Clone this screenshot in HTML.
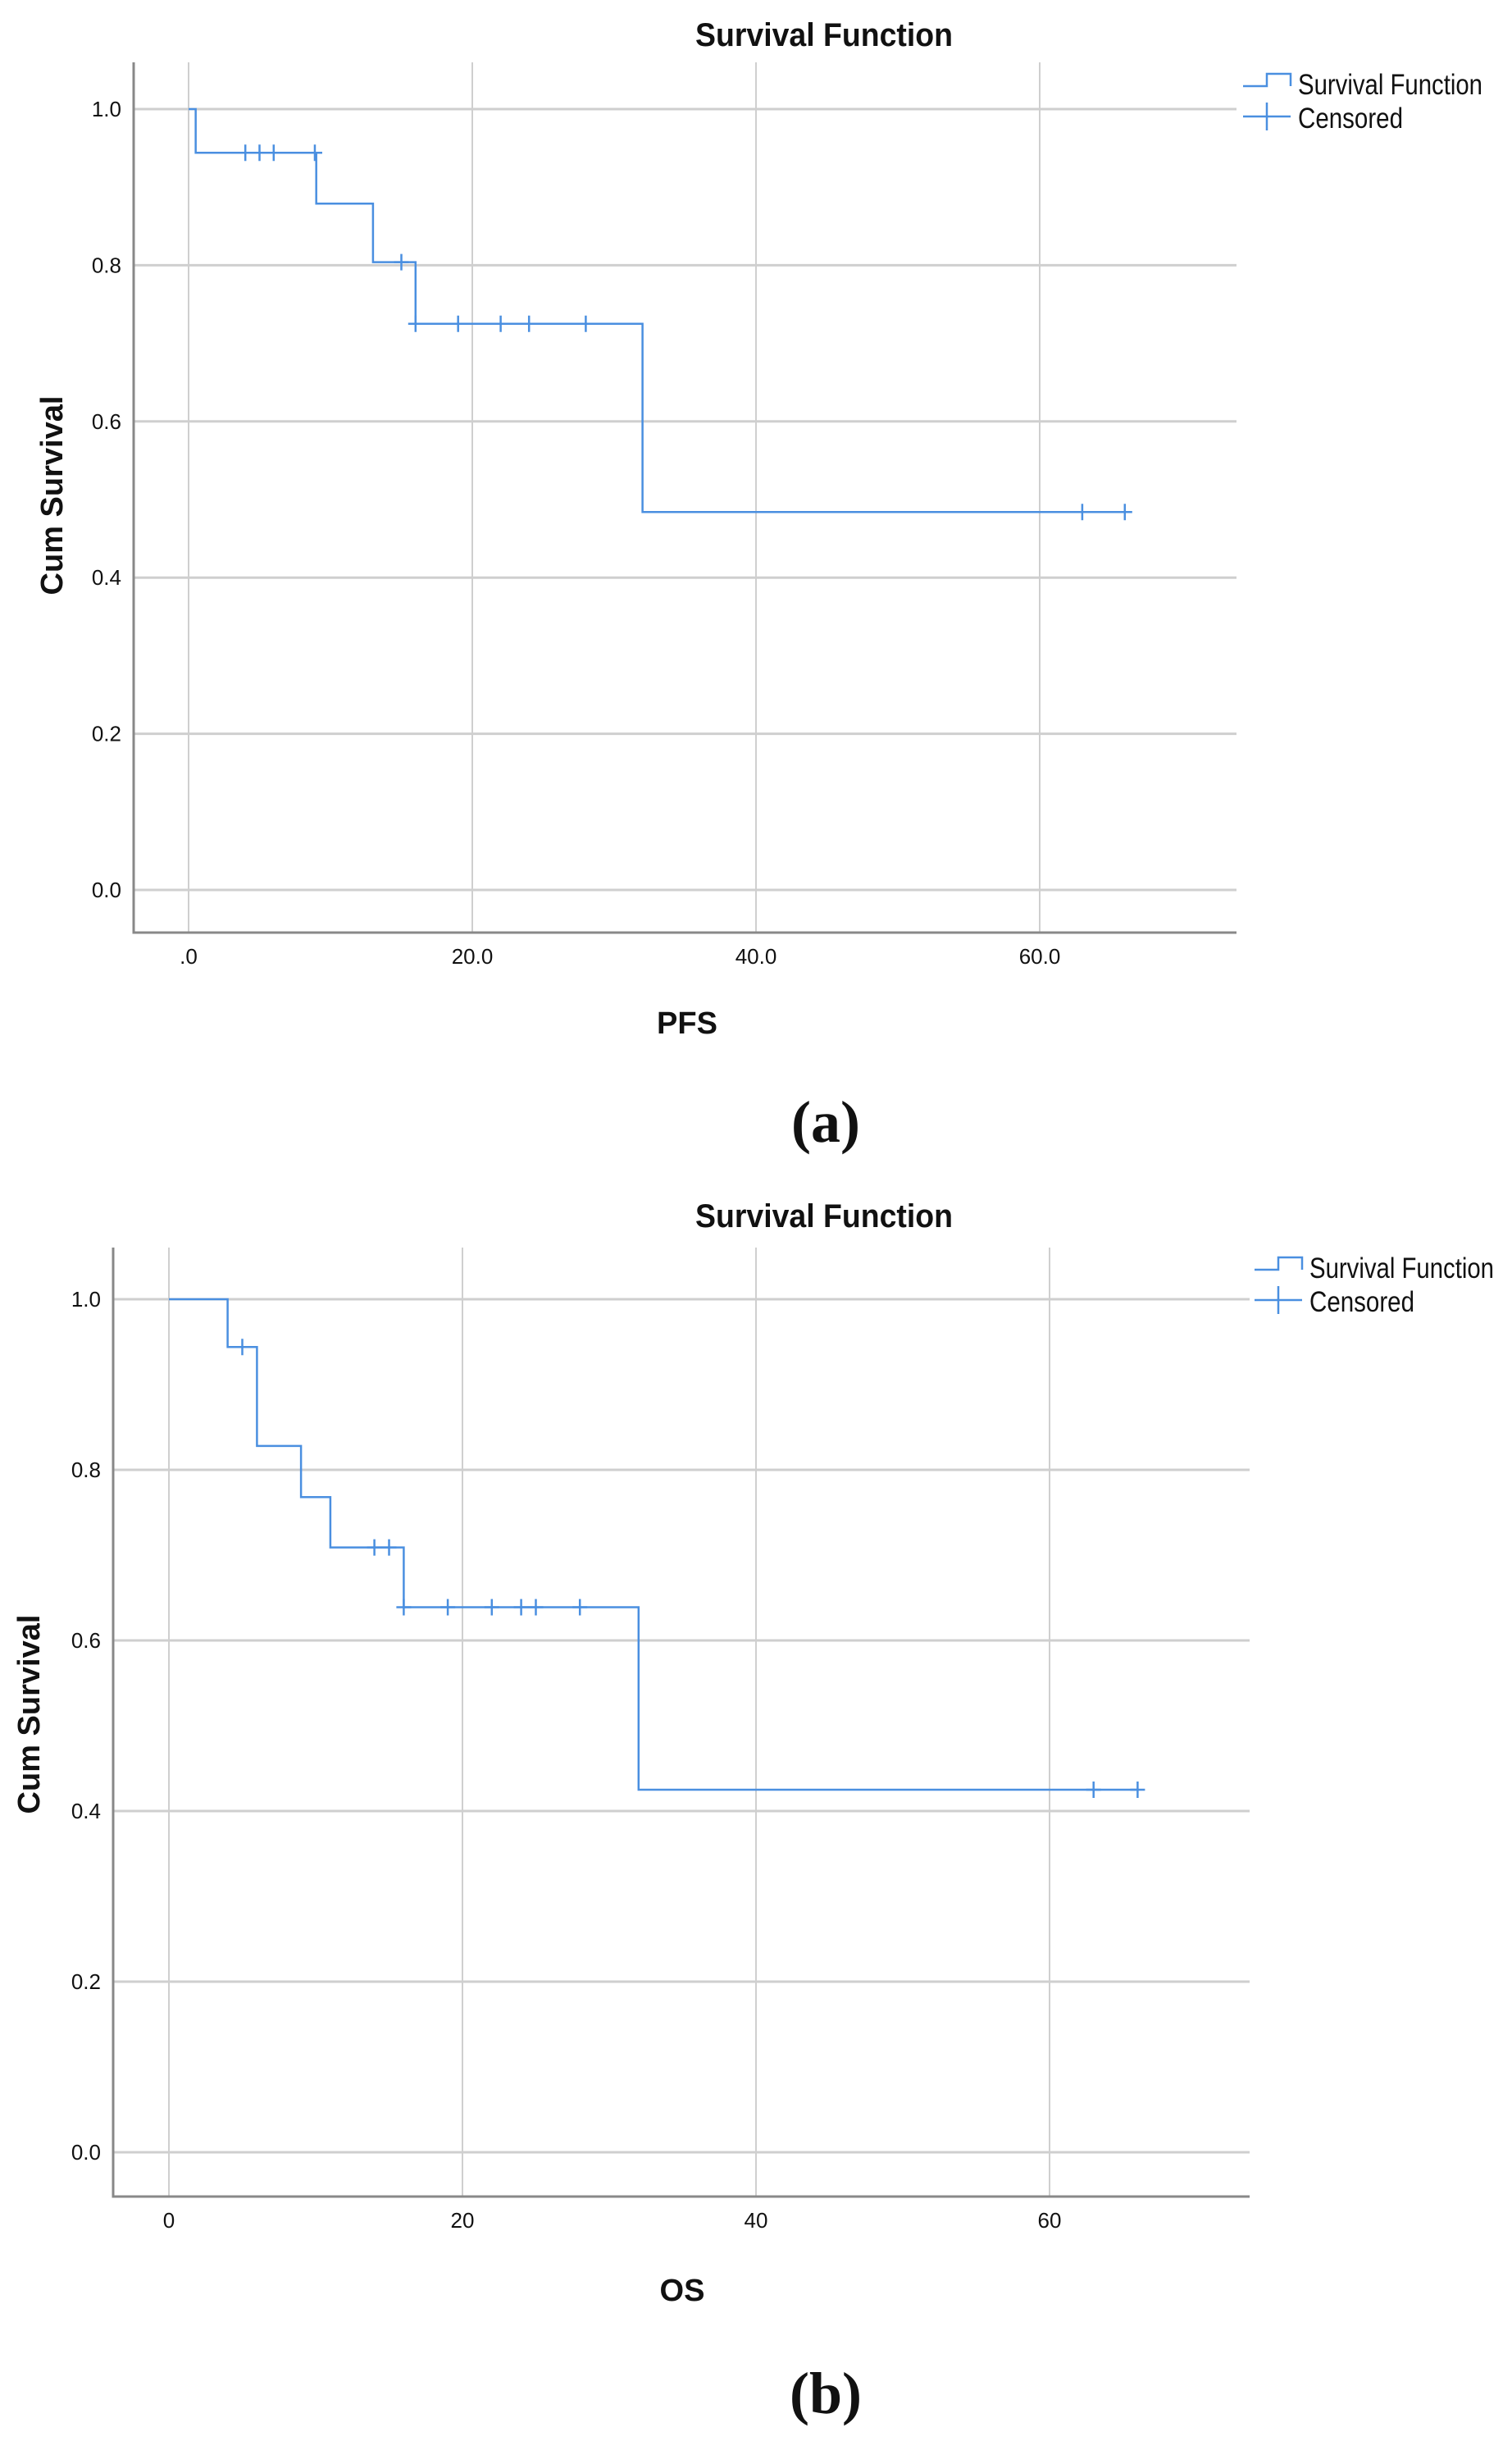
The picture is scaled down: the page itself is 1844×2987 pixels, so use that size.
<!DOCTYPE html>
<html><head><meta charset="utf-8"><style>
html,body{margin:0;padding:0;background:#fff;}
svg{display:block;}
text{font-family:"Liberation Sans",sans-serif;fill:#111;}
</style></head><body>
<svg id="svg" width="1844" height="2987" viewBox="0 0 1844 2987"></svg>
<script>
// Panel (a) PFS data
const pfsTimes = [0, 0.5, 9, 13, 16, 32];
const pfsSurv = [1.0, 0.944, 0.879, 0.804, 0.725, 0.484];
const pfsEnd = 66;
const pfsCensorT = [4, 5, 6, 8.9, 15, 16, 19, 22, 24, 28, 63, 66];
const pfsXTicks = [0, 20, 40, 60];
const pfsXLabels = [".0", "20.0", "40.0", "60.0"];
// Panel (b) OS data
const osTimes = [0, 4, 6, 9, 11, 16, 32];
const osSurv = [1.0, 0.944, 0.828, 0.768, 0.709, 0.639, 0.425];
const osEnd = 66;
const osCensorT = [5, 14, 15, 16, 19, 22, 24, 25, 28, 63, 66];
const osXTicks = [0, 20, 40, 60];
const osXLabels = ["0", "20", "40", "60"];
const yTicks = [0, 0.2, 0.4, 0.6, 0.8, 1.0];
const yLabels = ["0.0", "0.2", "0.4", "0.6", "0.8", "1.0"];

const NS = "http://www.w3.org/2000/svg";
const svg = document.getElementById('svg');
function mk(tag, attrs, parent) {
  const e = document.createElementNS(NS, tag);
  for (const k in attrs) e.setAttribute(k, attrs[k]);
  (parent || svg).appendChild(e);
  return e;
}
function survAt(times, surv, t) {
  let s = surv[0];
  for (let i = 0; i < times.length; i++) if (times[i] <= t) s = surv[i];
  return s;
}
function panel(cfg) {
  const g = mk('g', {});
  
  
  const X = t => cfg.x0 + t * cfg.xs;
  const Y = v => cfg.y0 - v * (cfg.y0 - cfg.y1);
  cfg.yTicks.forEach((v, i) => {
    const l = mk('line', {x1: cfg.left, x2: cfg.right, y1: Y(v), y2: Y(v), stroke: '#cfcfcf', 'stroke-width': 3}, g);
    
    
    const t = mk('text', {x: cfg.left - 15, y: Y(v) + 9, 'text-anchor': 'end', 'font-size': 26}, g);
    
    
    t.textContent = cfg.yLabels[i];
  });
  cfg.xTicks.forEach((v, i) => {
    const l = mk('line', {x1: X(v), x2: X(v), y1: cfg.top, y2: cfg.bottom, stroke: '#cfcfcf', 'stroke-width': 2}, g);
    
    
    const t = mk('text', {x: X(v), y: cfg.xLabY, 'text-anchor': 'middle', 'font-size': 26}, g);
    
    
    t.textContent = cfg.xLabels[i];
  });
  const ax = mk('path', {d: `M${cfg.left},${cfg.top} V${cfg.bottom} H${cfg.right}`, stroke: '#888', 'stroke-width': 3, fill: 'none'}, g);
  
  
  let d = `M${X(cfg.times[0])},${Y(cfg.surv[0])}`;
  for (let i = 1; i < cfg.times.length; i++) {
    d += ` H${X(cfg.times[i])} V${Y(cfg.surv[i])}`;
  }
  d += ` H${X(cfg.end)}`;
  const p = mk('path', {d: d, stroke: '#4a8fe0', 'stroke-width': 2.5, fill: 'none'}, g);
  
  
  cfg.censor.forEach(t => {
    const cx = X(t), cy = Y(survAt(cfg.times, cfg.surv, t));
    const c = mk('path', {d: `M${cx - 9},${cy} H${cx + 9} M${cx},${cy - 10} V${cy + 10}`, stroke: '#4a8fe0', 'stroke-width': 2.5}, g);
    
    
  });
  const ti = mk('text', {x: cfg.titleX, y: cfg.titleY, 'text-anchor': 'middle', 'font-size': 40, 'font-weight': 'bold', textLength: 314, lengthAdjust: 'spacingAndGlyphs'}, g);
  
  
  ti.textContent = 'Survival Function';
  const yt = mk('text', {x: 0, y: 0, 'text-anchor': 'middle', 'font-size': 38, 'font-weight': 'bold', transform: `translate(${cfg.ytX},${cfg.ytY}) rotate(-90)`}, g);
  
  
  yt.textContent = 'Cum Survival';
  const xt = mk('text', {x: cfg.xtX, y: cfg.xtY, 'text-anchor': 'middle', 'font-size': 38, 'font-weight': 'bold'}, g);
  
  
  xt.textContent = cfg.xTitle;
  const lg = mk('g', {}, g);
  
  
  const L = cfg.legX, LY = cfg.legY;
  const li1 = mk('path', {d: `M${L},${LY + 15} H${L + 29} V${LY} H${L + 58} V${LY + 15}`, stroke: '#4a8fe0', 'stroke-width': 2.5, fill: 'none'}, lg);
  
  
  const lt1 = mk('text', {x: L + 67, y: LY + 25, 'font-size': 35, textLength: 225, lengthAdjust: 'spacingAndGlyphs'}, lg);
  
  
  lt1.textContent = 'Survival Function';
  const li2 = mk('path', {d: `M${L},${LY + 52} H${L + 58} M${L + 29},${LY + 35} V${LY + 69}`, stroke: '#4a8fe0', 'stroke-width': 2.5}, lg);
  
  
  const lt2 = mk('text', {x: L + 67, y: LY + 66, 'font-size': 35, textLength: 128, lengthAdjust: 'spacingAndGlyphs'}, lg);
  
  
  lt2.textContent = 'Censored';
  const pl = mk('text', {x: 1007, y: cfg.plY, 'text-anchor': 'middle', 'font-size': 72, 'font-weight': 'bold', style: 'font-family:"Liberation Serif",serif'}, g);
  
  
  pl.textContent = cfg.label;
}
panel({name: 'pfs-chart', left: 163, right: 1508, top: 76, bottom: 1137, x0: 230, xs: 17.3, y0: 1085, y1: 133,
  times: pfsTimes, surv: pfsSurv, end: pfsEnd, censor: pfsCensorT, xTicks: pfsXTicks, xLabels: pfsXLabels,
  yTicks: yTicks, yLabels: yLabels, xLabY: 1175, titleX: 1005, titleY: 56, ytX: 76, ytY: 604,
  xtX: 838, xtY: 1260, xTitle: 'PFS', legX: 1516, legY: 90, plY: 1392, label: '(a)'});
panel({name: 'os-chart', left: 138, right: 1524, top: 1521, bottom: 2678, x0: 206, xs: 17.9, y0: 2624, y1: 1584,
  times: osTimes, surv: osSurv, end: osEnd, censor: osCensorT, xTicks: osXTicks, xLabels: osXLabels,
  yTicks: yTicks, yLabels: yLabels, xLabY: 2716, titleX: 1005, titleY: 1496, ytX: 48, ytY: 2090,
  xtX: 832, xtY: 2805, xTitle: 'OS', legX: 1530, legY: 1533, plY: 2942, label: '(b)'});
</script>
</body></html>
